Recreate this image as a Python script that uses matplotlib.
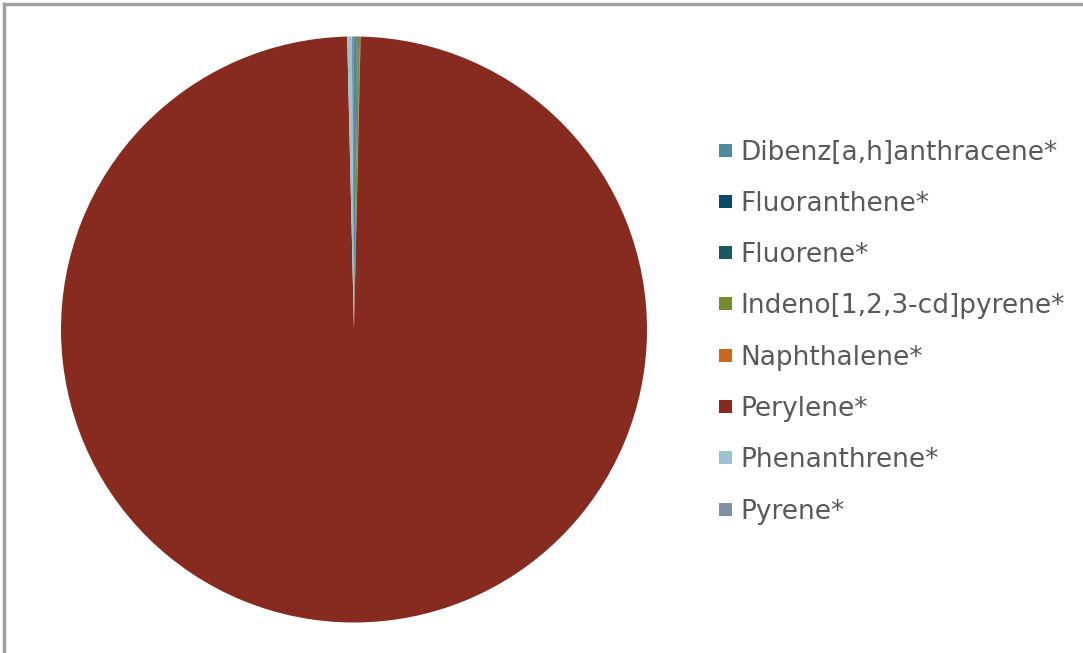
import matplotlib
matplotlib.use("Agg")
import matplotlib.pyplot as plt
from matplotlib.patches import Rectangle
from matplotlib.lines import Line2D

categories = ["Dibenz[a,h]anthracene*", "Fluoranthene*", "Fluorene*",
              "Indeno[1,2,3-cd]pyrene*", "Naphthalene*", "Perylene*",
              "Phenanthrene*", "Pyrene*"]
values = [0.15, 0.03, 0.03, 0.12, 0.03, 99.27, 0.25, 0.12]
colors = ["#4F8B9C", "#0D4A6A", "#185A60", "#758B2F", "#C56A1E",
          "#872A1F", "#9CC2CF", "#7F92A2"]

W, H = 1083, 653
fig = plt.figure(figsize=(W / 100, H / 100), dpi=100)

# frame (only top and left edges visible)
fig.add_artist(Line2D([4 / W, 4 / W], [0, 1 - 3.5 / H], transform=fig.transFigure,
                      color="#a0a0a0", lw=2.5))
fig.add_artist(Line2D([4 / W, 1], [1 - 3.5 / H, 1 - 3.5 / H], transform=fig.transFigure,
                      color="#a0a0a0", lw=2.5))

cx, cy, r = 354, 329.5, 293
ax = fig.add_axes([(cx - r) / W, (H - cy - r) / H, 2 * r / W, 2 * r / H])
ax.pie(values, colors=colors, startangle=90, counterclock=False, radius=1,
       wedgeprops=dict(linewidth=0))
ax.set_xlim(-1, 1)
ax.set_ylim(-1, 1)
ax.set_aspect("equal")
ax.axis("off")

y0, dy = 150, 51.3
for i, (lab, col) in enumerate(zip(categories, colors)):
    yc = y0 + i * dy
    fig.add_artist(Rectangle((719 / W, (H - yc - 6.5) / H), 13 / W, 13 / H,
                             transform=fig.transFigure, facecolor=col, edgecolor="none"))
    fig.text(740 / W, (H - yc - 9.5) / H, lab, fontsize=19, color="#595959",
             family="DejaVu Sans", va="baseline", ha="left")

fig.savefig("out.png", dpi=100)
